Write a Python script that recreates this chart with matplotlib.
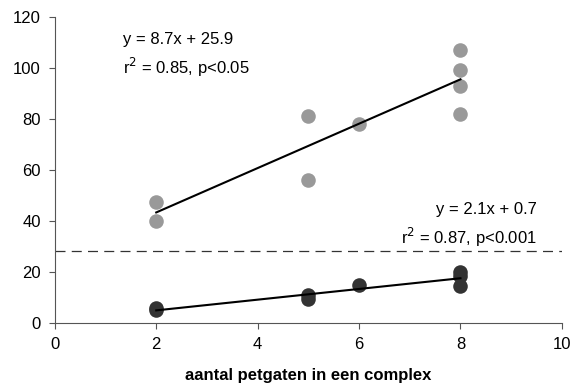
import matplotlib.pyplot as plt
import numpy as np

plt.rcParams["font.family"] = ["Liberation Sans", "DejaVu Sans"]

# light series (upper group)
x_light = [2, 2, 5, 5, 6, 8, 8, 8, 8]
y_light = [47.5, 40, 81, 56, 78, 107, 99, 93, 82]
fit_light = (8.7, 25.9)

# dark series (lower group)
x_dark = [2, 2, 5, 5, 6, 8, 8, 8]
y_dark = [6, 5, 11, 9.5, 15, 20, 18.5, 14.5]
fit_dark = (2.1, 0.7)

threshold = 28.2
fit_range = [2, 8]

fig = plt.figure(figsize=(5.71, 3.83), dpi=100)
ax = fig.add_axes([0.096, 0.157, 0.888, 0.799])

ax.scatter(x_light, y_light, s=110, color="#999999", zorder=2, linewidths=0)
ax.scatter(x_dark, y_dark, s=110, color="#333333", zorder=2, linewidths=0)

xr = np.array(fit_range)
ax.plot(xr, fit_light[0] * xr + fit_light[1], color="black", lw=1.5, zorder=3)
ax.plot(xr, fit_dark[0] * xr + fit_dark[1], color="black", lw=1.5, zorder=3)

ax.axhline(threshold, color="#333333", lw=0.9, dashes=(8, 5), zorder=1)

ax.text(1.34, 111, "y = 8.7x + 25.9", fontsize=12, va="center")
ax.text(1.34, 100, "r$^2$ = 0.85, p<0.05", fontsize=12, va="center")
ax.text(9.5, 44.6, "y = 2.1x + 0.7", fontsize=12, va="center", ha="right")
ax.text(9.5, 33.5, "r$^2$ = 0.87, p<0.001", fontsize=12, va="center", ha="right")

ax.set_xlim(0, 10)
ax.set_ylim(0, 120)
ax.set_xticks(range(0, 11, 2))
ax.set_yticks(range(0, 121, 20))
for side in ["top", "right"]:
    ax.spines[side].set_visible(False)
for side in ["left", "bottom"]:
    ax.spines[side].set_color("#555555")
ax.tick_params(direction="out", length=4, color="#555555", labelsize=12, pad=6)
ax.set_xlabel("aantal petgaten in een complex", fontsize=12, fontweight="bold", labelpad=12)

fig.savefig("out.png", dpi=100)
